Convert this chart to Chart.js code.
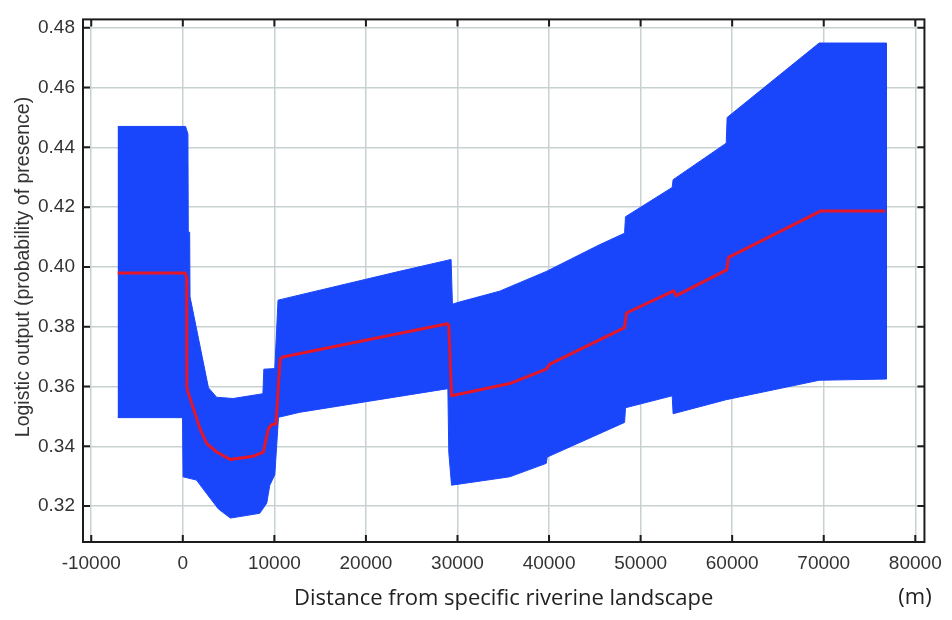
<!DOCTYPE html>
<html>
<head>
<meta charset="utf-8">
<script src="https://cdn.jsdelivr.net/npm/chart.js@4.4.1/dist/chart.umd.min.js"></script>
<style>
  html, body { margin: 0; padding: 0; background: #fff; }
</style>
</head>
<body>
<canvas id="myChart" width="952" height="620"></canvas>
<script>
// upper edge of the blue band
var upperX = [-7100, 300, 560, 600, 750, 790, 2800, 3700, 5500, 8750, 8850, 10050, 10400, 23200, 29300, 29450, 29900, 34600, 39700, 45500, 48250, 48350, 53450, 53550, 59350, 59450, 69500, 76850];
var upperY = [0.4470, 0.4470, 0.4445, 0.4118, 0.4116, 0.3900, 0.3596, 0.3564, 0.3560, 0.3576, 0.3658, 0.3660, 0.3889, 0.3982, 0.4025, 0.3875, 0.3880, 0.3919, 0.3985, 0.4074, 0.4113, 0.4168, 0.4266, 0.4292, 0.4414, 0.4500, 0.4749, 0.4749];

// lower edge of the blue band
var lowerX = [-7100, -30, 30, 1500, 2600, 3900, 5200, 8400, 9170, 9500, 10050, 10450, 12800, 28950, 29050, 29350, 35700, 39700, 39800, 48250, 48350, 53450, 53550, 59350, 69500, 76850];
var lowerY = [0.3496, 0.3496, 0.3298, 0.3287, 0.3242, 0.3190, 0.3160, 0.3176, 0.3210, 0.3270, 0.3305, 0.3497, 0.3514, 0.3593, 0.3380, 0.3270, 0.3298, 0.3343, 0.3364, 0.3480, 0.3529, 0.3569, 0.3509, 0.3556, 0.3621, 0.3625];

// red mean line
var meanX = [-7100, 250, 420, 440, 500, 990, 1890, 2620, 3710, 5170, 7710, 8800, 9340, 9700, 10180, 10620, 10900, 23200, 28900, 29050, 29350, 35700, 39700, 40080, 48250, 48450, 53600, 53900, 59400, 59600, 69650, 76700];
var meanY = [0.3980, 0.3980, 0.3965, 0.3600, 0.3588, 0.3542, 0.3458, 0.3409, 0.3381, 0.3356, 0.3367, 0.3381, 0.3458, 0.3473, 0.3475, 0.3691, 0.3699, 0.3775, 0.3810, 0.3805, 0.3569, 0.3610, 0.3658, 0.3675, 0.3797, 0.3846, 0.3920, 0.3904, 0.3990, 0.4032, 0.4187, 0.4187];

var xTicks = [-10000, 0, 10000, 20000, 30000, 40000, 50000, 60000, 70000, 80000];
var yTicks = [0.32, 0.34, 0.36, 0.38, 0.40, 0.42, 0.44, 0.46, 0.48];

var xTitle = 'Distance from specific riverine landscape';
var yTitle = 'Logistic output (probability of presence)';
var unitLabel = '(m)';

// band polygon: upper edge left->right, then lower edge right->left
var band = [];
for (var i = 0; i < upperX.length; i++) band.push({x: upperX[i], y: upperY[i]});
for (var j = lowerX.length - 1; j >= 0; j--) band.push({x: lowerX[j], y: lowerY[j]});

var mean = [];
for (var k = 0; k < meanX.length; k++) mean.push({x: meanX[k], y: meanY[k]});

// frame with inward ticks, y title and unit
var framePlugin = {
  id: 'frame',
  afterDraw: function(chart) {
    var ctx = chart.ctx, a = chart.chartArea;
    var xs = chart.scales.x, ys = chart.scales.y;
    ctx.save();
    ctx.strokeStyle = '#1c1c1c';
    ctx.lineWidth = 2;
    ctx.strokeRect(a.left, a.top, a.right - a.left, a.bottom - a.top);
    ctx.beginPath();
    xs.ticks.forEach(function(t) {
      var px = xs.getPixelForValue(t.value);
      ctx.moveTo(px, a.bottom); ctx.lineTo(px, a.bottom - 7);
      ctx.moveTo(px, a.top); ctx.lineTo(px, a.top + 7);
    });
    ys.ticks.forEach(function(t) {
      var py = ys.getPixelForValue(t.value);
      ctx.moveTo(a.left, py); ctx.lineTo(a.left + 7, py);
      ctx.moveTo(a.right, py); ctx.lineTo(a.right - 7, py);
    });
    ctx.stroke();

    ctx.fillStyle = '#333';
    ctx.font = '19.5px "Liberation Sans", Arial, sans-serif';
    ctx.textAlign = 'center';
    ctx.textBaseline = 'middle';
    ctx.save();
    ctx.translate(24, 267);
    ctx.rotate(-Math.PI / 2);
    ctx.fillText(yTitle, 0, 0);
    ctx.restore();

    ctx.fillStyle = '#222';
    ctx.font = '22px "Open Sans", sans-serif';
    ctx.fillText(unitLabel, 915, 598);
    ctx.restore();
  }
};

var ctx = document.getElementById('myChart');

var chart = new Chart(ctx, {
  type: 'scatter',
  data: {
    datasets: [
      {
        label: 'mean',
        data: mean,
        showLine: true,
        borderColor: 'rgb(228, 22, 40)',
        borderWidth: 3,
        borderJoinStyle: 'round',
        pointRadius: 0,
        fill: false
      },
      {
        label: 'band',
        data: band,
        showLine: true,
        borderColor: '#1a46fb',
        backgroundColor: '#1a46fb',
        borderWidth: 1,
        pointRadius: 0,
        fill: 'shape'
      }
    ]
  },
  options: {
    responsive: false,
    animation: false,
    layout: { padding: { top: 17, right: 27, left: 0, bottom: 0 } },
    plugins: {
      legend: { display: false },
      tooltip: { enabled: false }
    },
    scales: {
      x: {
        type: 'linear',
        min: -10900,
        max: 81000,
        afterBuildTicks: function(s) { s.ticks = xTicks.map(function(v) { return {value: v}; }); },
        afterFit: function(s) { s.height = 78; },
        grid: { color: '#c8d1d1', lineWidth: 1.5, drawTicks: false },
        border: { display: false },
        ticks: {
          color: '#333',
          font: { family: '"Liberation Sans", Arial, sans-serif', size: 19 },
          padding: 10,
          maxRotation: 0,
          autoSkip: false,
          callback: function(v) { return String(v); }
        },
        title: {
          display: true,
          text: xTitle,
          color: '#222',
          font: { family: '"Open Sans", sans-serif', size: 22 },
          padding: { top: 0, bottom: 8 }
        }
      },
      y: {
        type: 'linear',
        min: 0.308,
        max: 0.4828,
        afterBuildTicks: function(s) { s.ticks = yTicks.map(function(v) { return {value: v}; }); },
        afterFit: function(s) { s.width = 83; },
        grid: { color: '#c8d1d1', lineWidth: 1.5, drawTicks: false },
        border: { display: false },
        ticks: {
          color: '#333',
          font: { family: '"Liberation Sans", Arial, sans-serif', size: 19 },
          padding: 8,
          callback: function(v) { return v.toFixed(2); }
        }
      }
    }
  },
  plugins: [framePlugin]
});
</script>
</body>
</html>
